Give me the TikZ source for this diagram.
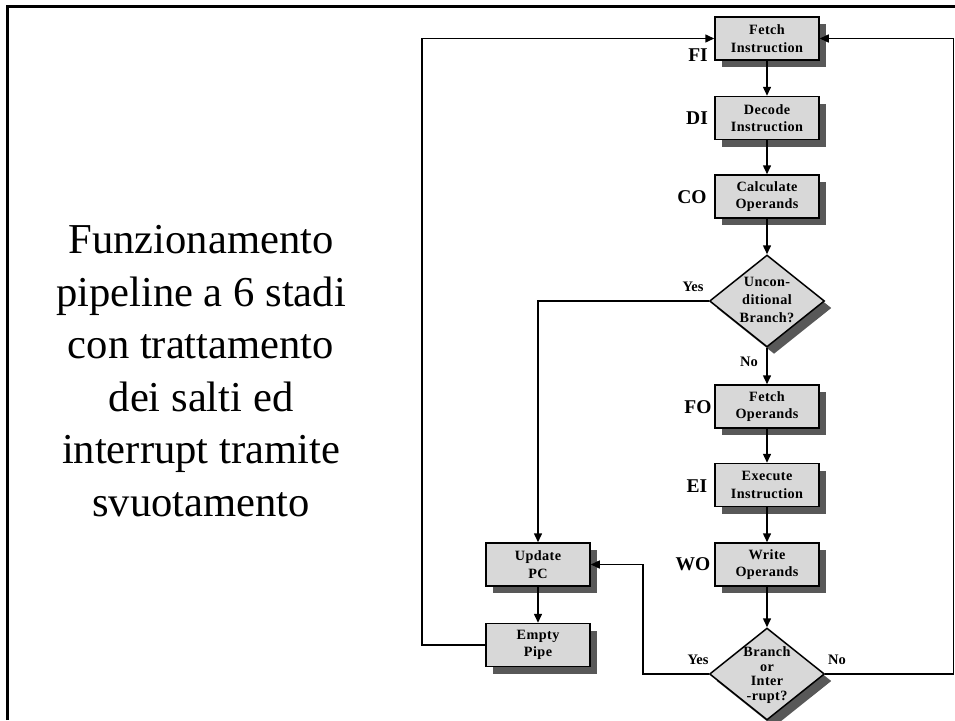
\documentclass[tikz,border=0pt]{standalone}
\usepackage{fontspec}
\setmainfont{Liberation Serif}
\usetikzlibrary{shapes.geometric,shadows,arrows.meta}
\definecolor{boxgray}{RGB}{216,216,216}
\definecolor{shadowgray}{RGB}{88,88,88}
\begin{document}
\begin{tikzpicture}[x=1pt,y=-1pt,
  shad/.style={drop shadow={shadow xshift=7pt, shadow yshift=-7pt, fill=shadowgray, opacity=1}},
  box/.style={draw=black, line width=1.5pt, fill=boxgray, minimum width=104pt, minimum height=43pt,
    inner sep=0pt, align=center, font=\fontsize{14.2}{17.5}\selectfont\bfseries\addfontfeature{LetterSpace=3}, shad},
  dec/.style={shape=diamond, draw=black, line width=1.5pt, fill=boxgray, minimum width=115pt,
    minimum height=92pt, inner sep=0pt, shad},
  dectext/.style={align=center, inner sep=0pt},
  stage/.style={font=\fontsize{19.5}{20}\selectfont\bfseries, inner sep=0pt},
  yn/.style={font=\fontsize{14.5}{15}\selectfont\bfseries, inner sep=0pt},
  conn/.style={line width=1.5pt, draw=black},
  arr/.style={conn, -{Triangle[length=9pt,width=8pt]}},
  title/.style={align=center, font=\fontsize{42.6}{52.6}\selectfont, inner sep=0pt}
]
\useasboundingbox (0,0) rectangle (955,720);
\fill[white] (0,0) rectangle (955,720);

% frame
\draw[line width=3pt, line join=miter] (7.5,720) -- (7.5,6.5) -- (955,6.5);

% title
\node[title] (title) at (201,371) {Funzionamento\\pipeline a 6 stadi\\con trattamento\\dei salti ed\\interrupt tramite\\svuotamento};

% boxes
\node[box] (fi) at (767,38.5) {Fetch\\Instruction};
\node[box] (di) at (767,118) {Decode\\Instruction};
\node[box] (co) at (767,196.5) {Calculate\\Operands};
\node[dec] (d1) at (767,301) {};
\node[dectext, font=\fontsize{14.2}{17.8}\selectfont\bfseries\addfontfeature{LetterSpace=3}] (d1t) at (767,300) {Uncon-\\ditional\\Branch?};
\node[box] (fo) at (767,406.5) {Fetch\\Operands};
\node[box] (ei) at (767,485) {Execute\\Instruction};
\node[box] (wo) at (767,564.5) {Write\\Operands};
\node[dec] (d2) at (767,674) {};
\node[dectext, font=\fontsize{14.2}{14.4}\selectfont\bfseries\addfontfeature{LetterSpace=3}] (d2t) at (767,675) {Branch\\or\\Inter\\-rupt?};
\node[box] (upd) at (538,564.5) {Update\\PC};
\node[box] (emp) at (538,645) {Empty\\Pipe};

% stage labels
\node[stage] (lfi) at (698,55) {FI};
\node[stage] (ldi) at (697,118) {DI};
\node[stage] (lco) at (692,197) {CO};
\node[stage] (lfo) at (698,407) {FO};
\node[stage] (lei) at (697,486) {EI};
\node[stage] (lwo) at (693,564) {WO};
\node[yn] (y1) at (693,287) {Yes};
\node[yn] (n1) at (749,362) {No};
\node[yn] (y2) at (698,660) {Yes};
\node[yn] (n2) at (837,660) {No};

% coordinates
\coordinate (lft) at (422,645);
\coordinate (rgt) at (953.5,674);
\coordinate (yb) at (643,674);

% connectors
\draw[arr] (fi) -- (di);
\draw[arr] (di) -- (co);
\draw[arr] (co) -- (d1.north);
\draw[arr] (d1.south) -- (fo);
\draw[arr] (fo) -- (ei);
\draw[arr] (ei) -- (wo);
\draw[arr] (wo) -- (d2.north);
\draw[arr] (d1.west) -| (upd.north);
\draw[arr] (upd) -- (emp);
\draw[arr] (d2.west) -- (yb) |- (upd.east);
\draw[arr] (emp.west) -- (lft) |- (fi.west);
\draw[arr] (d2.east) -- (rgt) |- (fi.east);
\end{tikzpicture}
\end{document}
